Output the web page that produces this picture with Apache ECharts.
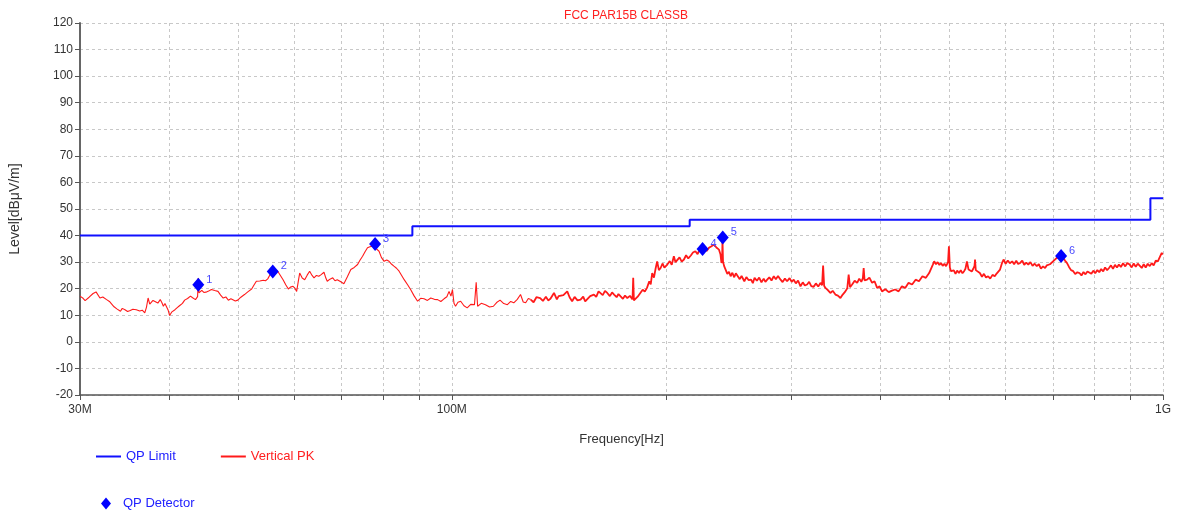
<!DOCTYPE html>
<html>
<head>
<meta charset="utf-8">
<script src="https://cdn.jsdelivr.net/npm/echarts@6/dist/echarts.min.js"></script>
<style>
html,body{margin:0;padding:0;background:#fff;}
#chart{width:1178px;height:513px;}
</style>
</head>
<body>
<div id="chart"></div>
<script>
// ---- data (frequencies in MHz, levels in dBuV/m) ----
const titleText = 'FCC PAR15B CLASSB';
const xTickFreqs = [30,40,50,60,70,80,90,100,200,300,400,500,600,700,800,900,1000];
const xLabelFreqs = [30,100,1000];
const limitFreq = [30, 88, 88, 216, 216, 960, 960, 1000];
const limitLevel = [40, 40, 43.5, 43.5, 46, 46, 54, 54];
const qpFreq = [44.0, 56.0, 78.0, 225.2, 240.4, 719];
const qpLevel = [21.5, 26.5, 36.8, 34.9, 39.3, 32.3];
const qpNames = ['1','2','3','4','5','6'];
const peakFreq = [
30.0,30.3,30.5,30.9,31.3,31.6,32.0,32.3,32.7,33.0,33.2,33.5,33.8,34.2,34.4,34.7,35.0,35.3,35.6,36.0,
36.4,36.7,37.0,37.2,37.4,37.6,37.8,38.0,38.2,38.6,38.9,39.1,39.3,39.5,39.7,39.9,40.1,40.4,40.8,41.1,
41.4,41.8,42.1,42.5,42.9,43.2,43.6,43.9,44.0,44.1,44.5,44.8,45.1,45.5,45.9,46.4,46.9,47.3,47.7,48.1,
48.5,48.9,49.2,49.6,50.0,50.5,51.1,51.7,52.3,52.7,53.1,53.7,54.3,54.7,55.1,55.6,56.1,56.5,56.9,57.4,
57.9,58.4,58.9,59.3,59.8,60.2,60.5,60.8,61.1,61.6,62.1,62.6,63.1,63.6,64.0,64.5,65.0,65.5,66.1,66.5,
66.8,67.4,68.0,68.5,69.0,69.8,70.5,71.3,72.1,72.9,73.7,74.3,74.9,75.5,76.1,76.7,77.3,78.2,79.0,79.6,
80.3,81.0,81.6,82.3,82.9,83.6,84.3,85.0,85.7,86.7,87.5,88.5,89.5,90.4,91.4,92.4,93.4,94.5,95.5,96.5,
97.5,98.4,99.1,99.7,100.2,100.7,101.2,102.0,102.9,104.0,105.1,106.3,107.6,108.2,108.7,110.0,111.5,113.0,114.4,115.6,
116.9,118.3,119.7,121.0,122.2,123.6,124.9,126.0,127.0,128.1,129.1,130.3,131.5,133.1,134.3,135.6,136.6,137.6,139.2,140.5,
141.3,142.2,143.5,145.3,146.4,147.6,148.8,150.2,151.7,153.0,154.0,155.0,156.5,158.4,159.6,160.8,161.8,163.0,164.2,165.4,
166.8,168.0,169.1,170.5,171.5,172.6,174.0,175.2,176.5,178.0,179.5,179.9,180.3,181.2,182.5,184.1,185.5,186.8,188.1,189.5,
190.4,191.3,192.4,193.4,194.4,195.5,196.6,197.8,199.0,200.9,202.5,203.8,205.2,206.3,207.5,209.0,210.5,212.0,213.5,215.0,
216.8,218.3,220.0,221.6,223.2,224.9,226.5,228.2,229.9,231.8,233.7,235.5,237.5,238.6,239.4,239.9,240.2,240.6,241.5,242.6,
244.0,245.3,246.6,248.0,249.5,250.8,252.3,254.0,255.5,257.8,259.5,261.5,263.5,265.0,266.5,268.5,270.5,272.5,274.5,276.0,
277.6,279.5,281.5,283.6,285.5,287.5,289.9,291.8,294.0,296.1,298.5,300.5,302.5,304.6,306.8,309.2,311.5,313.6,315.9,318.0,
320.2,322.7,325.0,327.5,329.8,331.6,332.7,333.8,335.2,337.8,340.6,343.2,346.2,349.0,351.9,354.5,357.6,359.8,361.4,363.0,
365.5,368.5,371.5,374.0,376.5,378.4,379.4,380.5,383.6,386.5,389.9,393.0,396.3,399.5,402.6,407.0,411.5,415.8,420.2,424.8,
429.4,434.0,438.8,443.8,448.9,453.8,458.9,464.0,469.0,472.0,474.5,476.7,479.5,482.0,484.8,487.4,490.0,492.8,495.4,497.5,
498.6,500.0,501.5,503.4,505.5,508.0,510.8,513.5,516.6,519.5,522.4,525.2,527.5,530.0,532.8,535.6,538.4,541.2,543.2,544.1,
545.4,548.0,552.7,556.5,560.0,563.8,567.7,571.5,575.8,580.0,583.5,587.0,590.0,593.5,596.8,600.8,605.0,609.0,613.7,617.5,
621.8,625.5,629.8,634.0,638.0,642.2,646.5,651.0,655.5,660.0,664.5,669.0,673.5,678.0,682.7,686.5,690.0,693.5,696.7,700.5,
704.8,709.0,713.0,716.8,720.7,724.6,728.5,732.6,737.6,742.5,747.8,752.5,757.8,763.0,768.0,773.0,778.0,783.0,788.0,793.0,
798.0,803.0,808.5,813.5,818.6,824.0,829.0,834.5,839.7,845.0,850.5,856.0,861.5,866.9,872.5,878.8,885.0,891.0,897.5,903.5,
909.5,915.5,921.5,927.4,933.5,939.5,945.5,951.8,958.0,964.0,970.2,976.8,983.5,988.5,992.8,996.0,999.0,1000.0
];
const peakLevel = [
17.2,16.4,15.5,16.8,18.2,18.8,16.5,16.9,15.9,15.2,14.4,13.2,12.4,11.5,12.6,12.1,11.4,11.8,12.3,12.1,
11.6,11.9,10.9,13.0,16.5,14.2,14.0,15.6,15.3,14.6,15.9,14.8,13.4,14.4,14.4,12.0,9.9,11.3,12.1,12.9,
13.6,14.5,15.7,16.3,17.2,16.6,15.9,17.0,24.0,18.4,19.4,18.6,18.7,19.1,19.7,19.3,19.0,17.6,16.5,16.9,
15.7,16.2,16.5,15.4,15.7,16.8,17.8,18.9,19.9,21.4,22.8,22.9,23.2,23.0,23.7,25.6,27.8,27.1,26.6,25.0,
23.4,21.5,19.9,20.6,20.9,20.1,19.0,22.5,25.9,24.0,23.4,25.1,26.6,25.0,24.1,25.0,24.7,25.3,26.2,24.0,
22.8,23.6,24.1,23.0,23.4,22.6,21.9,24.5,27.2,28.0,29.1,30.8,32.2,33.9,35.4,35.8,36.0,35.2,34.1,31.8,
30.3,30.8,30.3,29.2,28.5,27.7,26.6,25.0,23.4,21.4,19.7,17.3,15.3,16.4,16.2,15.6,16.5,16.0,15.9,15.2,
16.2,17.0,19.0,17.2,19.7,14.5,13.4,14.9,15.3,13.6,12.8,14.1,14.0,22.4,13.4,14.5,14.0,13.1,13.4,14.8,
15.7,14.4,14.0,15.2,14.7,16.0,17.8,15.0,14.7,16.3,15.9,14.9,16.8,16.5,15.4,17.0,15.6,16.2,18.4,16.0,
17.2,16.5,17.6,19.0,16.8,15.3,16.9,15.6,15.9,17.0,15.2,15.7,17.2,17.8,16.9,19.0,18.7,17.6,19.2,18.4,
17.2,18.6,17.8,16.8,18.0,17.2,16.2,17.4,16.5,17.3,16.0,24.1,15.6,15.3,17.0,18.4,19.6,18.9,20.3,22.8,
21.6,25.9,24.2,27.5,30.3,27.0,27.8,29.5,27.9,29.1,30.4,29.0,32.2,30.0,30.3,31.8,30.2,31.0,32.6,31.4,
32.5,33.6,34.1,33.0,34.9,34.7,35.8,34.2,35.4,36.0,36.6,35.5,34.7,33.0,29.7,30.5,38.5,30.2,28.5,27.8,
25.6,26.4,24.7,26.0,24.3,25.8,25.3,23.6,24.8,22.8,24.4,23.2,23.4,22.1,24.1,23.0,24.2,22.4,23.8,22.6,
23.4,24.3,23.1,24.7,23.6,24.8,23.4,22.5,23.8,22.8,24.0,22.6,23.4,22.0,23.1,20.9,22.4,21.2,21.6,22.6,
21.0,20.7,22.0,20.8,22.2,21.3,28.7,21.1,20.3,19.5,18.4,19.2,17.8,17.4,16.5,17.8,19.0,20.2,25.3,20.6,
21.6,23.0,22.2,23.8,22.6,24.0,27.8,23.1,23.4,24.2,22.2,22.8,20.3,20.9,19.0,19.8,18.7,19.3,19.7,19.0,
20.9,20.3,22.2,21.6,23.4,22.8,24.7,24.1,25.9,26.6,29.0,30.3,29.2,30.0,28.9,29.7,28.6,29.4,28.5,27.8,
30.0,36.0,28.0,26.6,25.9,26.9,25.6,26.8,25.9,27.0,25.8,26.6,27.5,30.3,27.2,27.8,26.5,27.6,28.6,31.0,
27.0,26.4,25.9,24.5,25.6,24.2,24.7,23.8,25.2,24.7,25.7,26.3,27.2,29.5,31.0,29.4,30.6,29.6,30.3,29.2,
30.5,29.3,29.7,30.6,29.0,29.8,29.1,30.0,28.6,29.4,28.5,29.2,27.6,28.4,27.8,28.8,28.1,29.2,29.7,30.3,
31.0,31.6,32.2,31.9,32.8,31.4,30.5,29.7,28.2,27.0,26.6,25.5,26.2,25.9,25.0,26.3,25.4,26.5,26.6,25.6,
26.8,25.8,27.0,26.2,27.4,26.5,28.0,27.0,27.8,28.8,27.5,29.0,28.0,29.1,28.2,29.6,28.4,29.7,29.1,28.0,
29.5,28.3,29.4,28.7,27.8,29.2,28.0,29.4,28.5,29.6,28.8,30.6,30.3,31.6,30.9,33.5,32.8,34.0
];

const lg = v => Math.log10(v);
const pair = (fs, ls) => fs.map((f, i) => [lg(f), ls[i]]);
// the trace is drawn as two pieces with the same legend name: the dense-noise upper band is heavier
const bandStart = 129.1;
const peakPairs = pair(peakFreq, peakLevel);
const peakLow = peakPairs.filter((p, i) => peakFreq[i] <= bandStart);
const peakHigh = peakPairs.filter((p, i) => peakFreq[i] >= bandStart);

const chart = echarts.init(document.getElementById('chart'), null, {renderer: 'canvas'});
const FONT = 'Liberation Sans, Arial, sans-serif';
const BLUE = '#1010ff';
const RED = '#ff1a1a';
const option = {
  animation: false,
  backgroundColor: '#ffffff',
  title: {
    text: titleText,
    left: 621, top: 5, textAlign: 'center',
    textStyle: {color: '#ff2020', fontSize: 12, fontWeight: 'normal', fontFamily: FONT}
  },
  legend: [
    {
      left: 91, top: 445, itemWidth: 25, itemHeight: 2, itemGap: 45,
      textStyle: {fontSize: 13, fontFamily: FONT},
      data: [
        {name: 'QP Limit', icon: 'rect', itemStyle: {color: BLUE}, textStyle: {color: '#2020ff'}},
        {name: 'Vertical PK', icon: 'rect', itemStyle: {color: RED}, textStyle: {color: '#ff2020'}}
      ]
    },
    {
      left: 96, top: 492, itemWidth: 24, itemHeight: 12, symbolKeepAspect: true,
      textStyle: {fontSize: 13, fontFamily: FONT},
      data: [{name: 'QP Detector', icon: 'path://M5,0L10,6L5,12L0,6Z', itemStyle: {color: '#0000ff'}, textStyle: {color: '#2020ff'}}]
    }
  ],
  grid: {left: 79, right: 15, top: 23, bottom: 118},
  xAxis: {
    type: 'value',
    min: lg(30), max: 3,
    name: 'Frequency[Hz]', nameLocation: 'middle', nameGap: 38,
    nameTextStyle: {color: '#333', fontSize: 13, fontFamily: FONT},
    axisLine: {show: true, onZero: false, lineStyle: {color: '#555', width: 1.5}},
    axisTick: {show: true, length: 5, lineStyle: {color: '#555'}, customValues: xTickFreqs.map(lg)},
    axisLabel: {
      color: '#333', fontSize: 12, fontFamily: FONT, margin: 9,
      customValues: xLabelFreqs.map(lg),
      formatter: v => { const f = Math.round(Math.pow(10, v)); return f >= 1000 ? (f / 1000) + 'G' : f + 'M'; }
    },
    splitLine: {show: true, lineStyle: {color: '#c8c8c8', type: [3, 3], width: 1}}
  },
  yAxis: {
    type: 'value', min: -20, max: 120, interval: 10,
    name: 'Level[dBμV/m]', nameLocation: 'middle', nameGap: 58,
    nameTextStyle: {color: '#333', fontSize: 14, fontFamily: FONT},
    axisLine: {show: true, lineStyle: {color: '#666', width: 2}},
    axisTick: {show: true, length: 5, lineStyle: {color: '#555'}},
    axisLabel: {color: '#333', fontSize: 12, fontFamily: FONT, margin: 7},
    splitLine: {show: true, lineStyle: {color: '#c8c8c8', type: [3, 3], width: 1}}
  },
  series: [
    {
      name: 'QP Limit', type: 'line', symbol: 'none', z: 3,
      data: pair(limitFreq, limitLevel),
      lineStyle: {color: BLUE, width: 2}, itemStyle: {color: BLUE}
    },
    {
      name: 'Vertical PK', type: 'line', symbol: 'none', z: 2,
      data: peakLow,
      lineStyle: {color: RED, width: 1.1}, itemStyle: {color: RED}
    },
    {
      name: 'Vertical PK', type: 'line', symbol: 'none', z: 2,
      data: peakHigh,
      lineStyle: {color: RED, width: 1.8}, itemStyle: {color: RED}
    },
    {
      name: 'QP Detector', type: 'scatter', symbol: 'diamond', symbolSize: [12, 14], z: 5,
      itemStyle: {color: '#0000ff', opacity: 1},
      data: qpFreq.map((f, i) => ({value: [lg(f), qpLevel[i]], name: qpNames[i]})),
      label: {
        show: true, position: 'right', distance: 2, offset: [0, -5],
        formatter: p => p.name, color: '#4a4aff', fontSize: 11, fontFamily: FONT
      }
    }
  ]
};
chart.setOption(option);
</script>
</body>
</html>
